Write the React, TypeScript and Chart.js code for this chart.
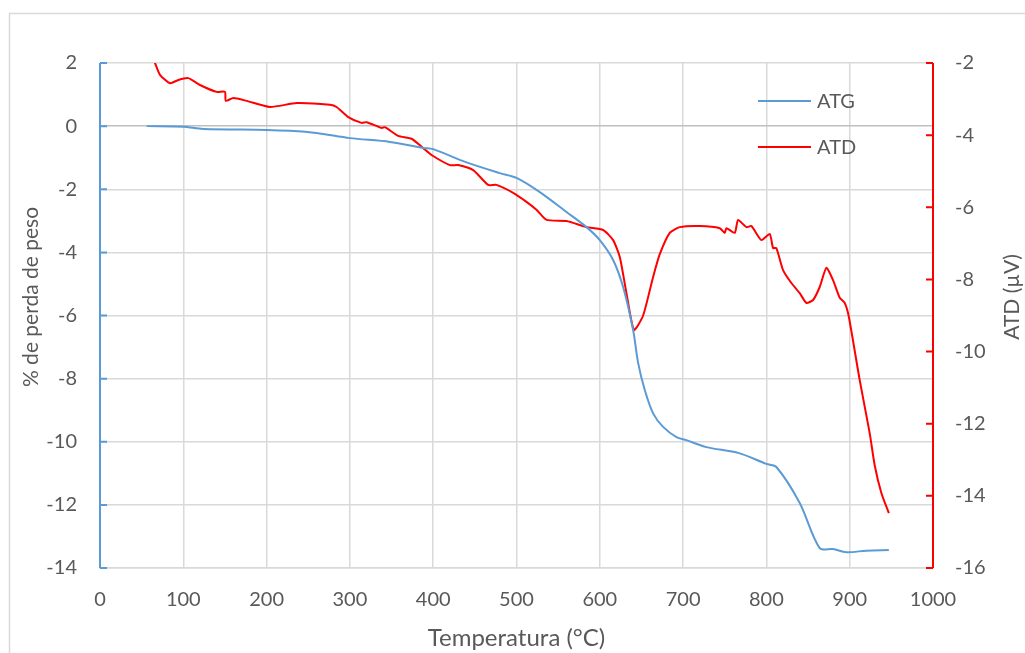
import React, { useEffect, useRef } from "react";
import { Chart, registerables } from "chart.js";

Chart.register(...registerables);

const tempATG = [56, 100, 124, 200, 228, 260, 300, 348, 388, 400, 440, 480, 500, 528, 560, 584, 600, 616, 628, 640, 646, 654, 664, 676, 692, 704, 728, 767, 800, 812, 840, 864, 880, 896, 920, 947];
const atg = [0, -0.02, -0.09, -0.12, -0.15, -0.22, -0.38, -0.5, -0.69, -0.73, -1.15, -1.49, -1.64, -2.09, -2.72, -3.2, -3.61, -4.24, -5.1, -6.46, -7.5, -8.36, -9.1, -9.53, -9.85, -9.95, -10.17, -10.36, -10.7, -10.8, -11.94, -13.37, -13.4, -13.5, -13.45, -13.43];

const tempATD = [60, 66, 72, 84, 94, 106, 120, 140, 150, 151, 160, 176, 204, 236, 276, 284, 298, 314, 320, 338, 342, 358, 374, 388, 398, 420, 430, 448, 466, 476, 496, 512, 524, 536, 560, 584, 604, 616, 624, 632, 641, 652, 664, 672, 684, 696, 720, 744, 750, 752, 762, 766, 776, 782, 794, 804, 808, 812, 820, 830, 840, 848, 856, 864, 872, 880, 888, 894, 899, 912, 924, 930, 938, 947];
const atd = [-1.7, -2.0, -2.33, -2.56, -2.47, -2.42, -2.61, -2.8, -2.8, -3.05, -2.97, -3.05, -3.22, -3.11, -3.16, -3.22, -3.5, -3.66, -3.64, -3.8, -3.78, -4.02, -4.1, -4.36, -4.55, -4.83, -4.83, -4.97, -5.38, -5.38, -5.6, -5.85, -6.07, -6.35, -6.38, -6.55, -6.63, -6.91, -7.38, -8.38, -9.4, -9.0, -7.93, -7.3, -6.71, -6.55, -6.52, -6.58, -6.71, -6.58, -6.71, -6.35, -6.55, -6.52, -6.91, -6.74, -7.13, -7.13, -7.74, -8.1, -8.38, -8.65, -8.57, -8.21, -7.68, -8.02, -8.51, -8.65, -9.04, -10.79, -12.26, -13.15, -13.92, -14.48];

const seriesNames = ["ATG", "ATD"];
const xTitle = "Temperatura (°C)";
const yTitle = "% de perda de peso";
const y1Title = "ATD (µV)";

const BLUE = "#5b9bd5";
const RED = "#ff0000";
const TEXT = "#595959";
const GRID = "#d9d9d9";
const FONT = "Lato";

export default function App() {
  const ref = useRef<HTMLCanvasElement | null>(null);

  useEffect(() => {
    if (!ref.current) return;
    const decor = {
      id: "decor",
      beforeDraw(chart: any) {
        const ctx = chart.ctx;
        ctx.save();
        ctx.strokeStyle = GRID;
        ctx.lineWidth = 1.5;
        ctx.strokeRect(9.5, 13.5, 1100, 800);
        ctx.restore();
      },
      afterDraw(chart: any) {
        const ctx = chart.ctx;
        const ca = chart.chartArea;
        const y = chart.scales.y;
        const y1 = chart.scales.y1;
        ctx.save();
        // left axis
        ctx.strokeStyle = BLUE;
        ctx.lineWidth = 2;
        ctx.beginPath();
        ctx.moveTo(ca.left, ca.top);
        ctx.lineTo(ca.left, ca.bottom);
        y.ticks.forEach((t: any) => {
          const p = y.getPixelForValue(t.value);
          ctx.moveTo(ca.left, p);
          ctx.lineTo(ca.left + 7, p);
        });
        ctx.stroke();
        // right axis
        ctx.strokeStyle = RED;
        ctx.beginPath();
        ctx.moveTo(ca.right, ca.top);
        ctx.lineTo(ca.right, ca.bottom);
        y1.ticks.forEach((t: any) => {
          const p = y1.getPixelForValue(t.value);
          ctx.moveTo(ca.right, p);
          ctx.lineTo(ca.right - 7, p);
        });
        ctx.stroke();
        // titles
        ctx.fillStyle = TEXT;
        ctx.textAlign = "center";
        ctx.textBaseline = "middle";
        ctx.font = `24px ${FONT}`;
        ctx.fillText(xTitle, (ca.left + ca.right) / 2, 638);
        ctx.font = `21px ${FONT}`;
        ctx.save();
        ctx.translate(31, 297);
        ctx.rotate(-Math.PI / 2);
        ctx.fillText(yTitle, 0, 0);
        ctx.restore();
        ctx.save();
        ctx.translate(1012, 297);
        ctx.rotate(-Math.PI / 2);
        ctx.fillText(y1Title, 0, 0);
        ctx.restore();
        // legend
        const items = [
          { name: seriesNames[0], color: BLUE, yy: 101 },
          { name: seriesNames[1], color: RED, yy: 147 },
        ];
        ctx.font = `20px ${FONT}`;
        ctx.textAlign = "left";
        items.forEach((it) => {
          ctx.strokeStyle = it.color;
          ctx.lineWidth = 2;
          ctx.beginPath();
          ctx.moveTo(758, it.yy);
          ctx.lineTo(811, it.yy);
          ctx.stroke();
          ctx.fillStyle = TEXT;
          ctx.fillText(it.name, 817, it.yy + 1);
        });
        ctx.restore();
      },
    };

    const chart = new Chart(ref.current, {
      type: "line",
      data: {
        datasets: [
          {
            label: seriesNames[0],
            data: tempATG.map((t, i) => ({ x: t, y: atg[i] })),
            borderColor: BLUE,
            borderWidth: 2,
            pointRadius: 0,
            tension: 0.3,
            yAxisID: "y",
          },
          {
            label: seriesNames[1],
            data: tempATD.map((t, i) => ({ x: t, y: atd[i] })),
            borderColor: RED,
            borderWidth: 2,
            pointRadius: 0,
            tension: 0.2,
            yAxisID: "y1",
          },
        ],
      },
      options: {
        responsive: true,
        maintainAspectRatio: false,
        animation: false,
        layout: { padding: { top: 63, left: 0, right: 0, bottom: 0 } },
        plugins: { legend: { display: false }, tooltip: { enabled: false } },
        scales: {
          x: {
            type: "linear",
            min: 0,
            max: 1000,
            ticks: { stepSize: 100, color: TEXT, font: { family: FONT, size: 20 }, padding: 20, callback: (v: any) => String(v) },
            grid: { color: GRID, lineWidth: 1.5, drawTicks: false },
            border: { color: GRID, width: 1.5 },
            afterFit: (s: any) => { s.height = 85; },
          },
          y: {
            position: "left",
            min: -14,
            max: 2,
            ticks: { stepSize: 2, color: TEXT, font: { family: FONT, size: 20 }, padding: 23, callback: (v: any) => String(v) },
            grid: {
              color: (c: any) => (c.tick && c.tick.value === 0 ? "#bfbfbf" : GRID),
              lineWidth: 1.5,
              drawTicks: false,
            },
            border: { display: false },
            afterFit: (s: any) => { s.width = 100; },
          },
          y1: {
            position: "right",
            min: -16,
            max: -2,
            ticks: { stepSize: 2, color: TEXT, font: { family: FONT, size: 20 }, padding: 22, callback: (v: any) => String(v) },
            grid: { display: false, drawTicks: false },
            border: { display: false },
            afterFit: (s: any) => { s.width = 92; },
          },
        },
      },
      plugins: [decor],
    } as any);
    return () => chart.destroy();
  }, []);

  return (
    <div style={{ position: "fixed", left: 0, top: 0, width: 1025, height: 653, background: "#fff" }}>
      <canvas ref={ref} />
    </div>
  );
}
